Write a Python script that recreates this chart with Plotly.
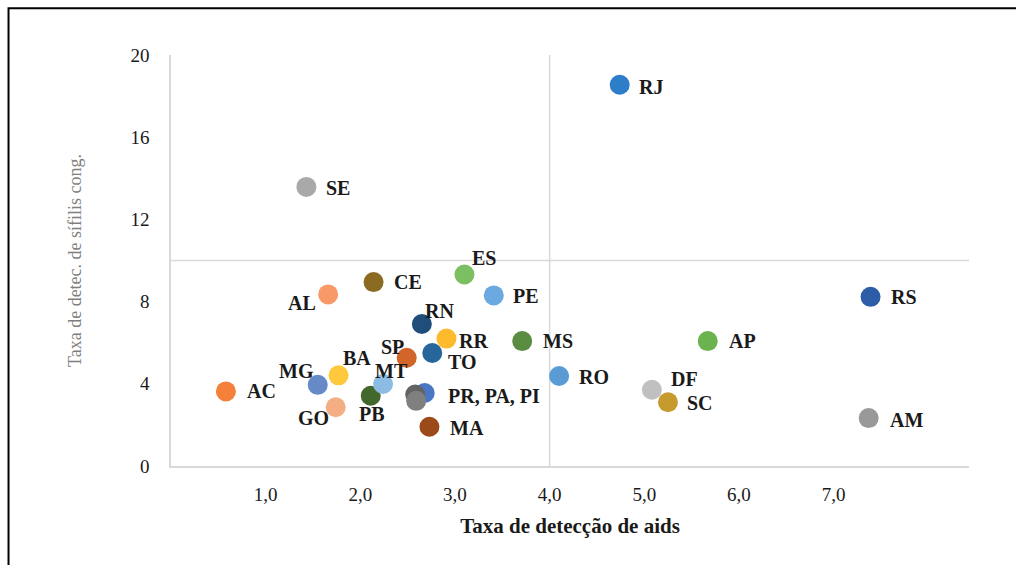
import plotly.graph_objects as go

# State codes and rates (AIDS detection rate vs congenital syphilis detection rate)
states = ["AC", "SE", "AL", "CE", "ES", "PE", "RJ", "RS", "RN", "RR", "MS", "AP",
          "SP", "TO", "MG", "BA", "RO", "PB", "MT", "DF", "SC", "PR", "PA", "PI",
          "GO", "AM", "MA"]
aids_rate = [0.58, 1.43, 1.66, 2.14, 3.10, 3.41, 4.74, 7.39, 2.65, 2.91, 3.71, 5.67,
             2.49, 2.76, 1.55, 1.77, 4.10, 2.11, 2.24, 5.08, 5.25, 2.68, 2.58, 2.59,
             1.74, 7.37, 2.73]
syph_rate = [3.63, 13.58, 8.35, 8.95, 9.32, 8.30, 18.55, 8.23, 6.91, 6.20, 6.08, 6.08,
             5.27, 5.50, 3.95, 4.41, 4.38, 3.42, 3.99, 3.71, 3.10, 3.55, 3.48, 3.17,
             2.86, 2.33, 1.91]
point_colors = ["#F4803A", "#A9A9A9", "#F79A68", "#8B6B22", "#7BBF62", "#6AAAE0",
                "#2E7DC8", "#2E5DA8", "#1F4E7A", "#FDBA2C", "#5A8D42", "#6AB34F",
                "#D2662A", "#26669B", "#6689C8", "#FFC83D", "#5B9BD5", "#43682B",
                "#8CBBE3", "#C0C0C0", "#C79A2E", "#4A76C6", "#636363", "#7F7F7F",
                "#F3AE84", "#999999", "#9C4A1A"]
x_ticks = [1, 2, 3, 4, 5, 6, 7]
x_tick_text = ["1,0", "2,0", "3,0", "4,0", "5,0", "6,0", "7,0"]
y_ticks = [0, 4, 8, 12, 16, 20]

# Label placement: (text, xanchor, xshift, yshift)
label_place = {
    "AC": ("AC", "left", 19, 0),
    "SE": ("SE", "left", 18, -1),
    "AL": ("AL", "right", -10, -9),
    "CE": ("CE", "left", 18, 0),
    "ES": ("ES", "center", 20, 16),
    "PE": ("PE", "left", 17, -1),
    "RJ": ("RJ", "left", 17, -2),
    "RS": ("RS", "left", 18, 0),
    "RN": ("RN", "center", 18, 13),
    "RR": ("RR", "left", 11, -2),
    "MS": ("MS", "left", 19, 0),
    "AP": ("AP", "left", 19, 0),
    "SP": ("SP", "right", -1, 11),
    "TO": ("TO", "left", 14, -9),
    "MG": ("MG", "right", -2, 14),
    "BA": ("BA", "left", 2, 17),
    "RO": ("RO", "left", 18, -1),
    "PB": ("PB", "center", 1, -18),
    "MT": ("MT", "left", -10, 13),
    "DF": ("DF", "left", 17, 11),
    "SC": ("SC", "left", 17, -1),
    "PR": ("PR, PA, PI", "left", 21, -3),
    "GO": ("GO", "right", -5, -11),
    "AM": ("AM", "left", 19, -2),
    "MA": ("MA", "left", 19, -1),
}

SERIF = "'Liberation Serif', 'Times New Roman', Times, serif"
GRID = "#D9D9D9"
INK = "#1A1A1A"

fig = go.Figure()
fig.add_trace(go.Scatter(
    x=aids_rate, y=syph_rate, mode="markers",
    marker=dict(size=20, color=point_colors, line=dict(width=0)),
    text=states, hoverinfo="text", showlegend=False,
))

annotations = []
for s, xv, yv in zip(states, aids_rate, syph_rate):
    if s not in label_place:
        continue
    txt, anchor, dx, dy = label_place[s]
    annotations.append(dict(
        x=xv, y=yv, xref="x", yref="y", text=txt, showarrow=False,
        xanchor=anchor, yanchor="middle", xshift=dx, yshift=dy,
        font=dict(family=SERIF, size=20, color=INK, weight="bold"),
    ))

shapes = [
    # quadrant dividers
    dict(type="line", xref="x", yref="y", x0=4, x1=4, y0=0, y1=20,
         line=dict(color=GRID, width=1.5), layer="below"),
    dict(type="line", xref="paper", yref="y", x0=0, x1=1, y0=10, y1=10,
         line=dict(color=GRID, width=1.5), layer="below"),
    # outer frame
    dict(type="rect", xref="paper", yref="paper", x0=-0.2036, x1=1.2,
         y0=-0.4, y1=1.1136, line=dict(color="#000000", width=2),
         fillcolor="rgba(0,0,0,0)", layer="above"),
]

fig.update_layout(
    width=1016, height=565,
    margin=dict(l=171, r=47, t=55, b=99),
    paper_bgcolor="white", plot_bgcolor="white",
    font=dict(family=SERIF, color=INK),
    annotations=annotations,
    shapes=shapes,
    xaxis=dict(
        range=[0, 8.43], tickvals=x_ticks, ticktext=x_tick_text,
        showgrid=False, zeroline=False, showline=True, linecolor=GRID,
        linewidth=1.5, ticks="", ticklabelstandoff=10,
        tickfont=dict(family=SERIF, size=19, color=INK),
        title=dict(text="Taxa de detecção de aids", standoff=15,
                   font=dict(family=SERIF, size=21, color=INK,
                             weight="bold")),
    ),
    yaxis=dict(
        range=[0, 20], tickvals=y_ticks,
        showgrid=False, zeroline=False, showline=True, linecolor=GRID,
        linewidth=1.5, ticks="", ticklabelstandoff=16,
        tickfont=dict(family=SERIF, size=19, color=INK),
        title=dict(text="Taxa de detec. de sífilis cong.", standoff=44,
                   font=dict(family=SERIF, size=18, color="#7F7F7F")),
    ),
)

fig.write_html("out.html")
